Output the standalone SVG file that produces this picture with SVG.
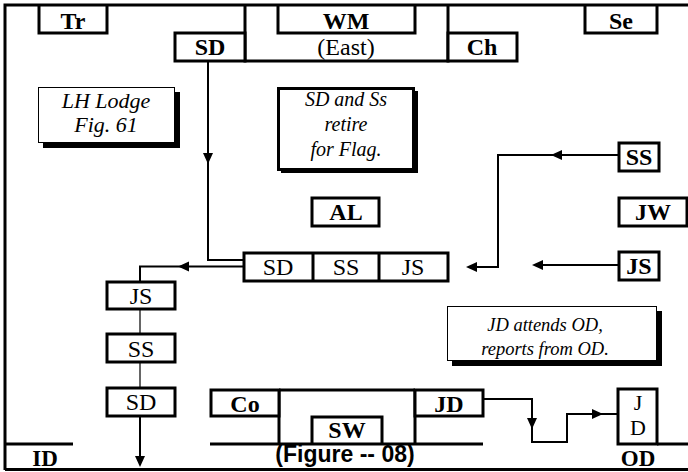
<svg xmlns="http://www.w3.org/2000/svg" width="688" height="472" viewBox="0 0 688 472">
<style>
.frame{fill:none;stroke:#000;stroke-width:3}
.box{fill:#fff;stroke:#000;stroke-width:3}
.note{fill:#fff;stroke:#000;stroke-width:1}
.shadow{fill:#000}
.lbl{font-weight:bold;font-size:24px;text-anchor:middle;fill:#000}
.reg{font-size:24px;text-anchor:middle;fill:#000}
.it{font-style:italic;font-size:20px;text-anchor:middle;fill:#000}
.fig{font-family:'Liberation Sans',Arial,sans-serif;font-weight:bold;font-size:23px;text-anchor:middle;fill:#000}
.con{fill:none;stroke:#000;stroke-width:2}
.thin{fill:none;stroke:#000;stroke-width:1.2}
.ah{fill:#000}
</style>
<defs>
<path id="arr" d="M0,0 L-11,-5 L-11,5 Z"/>
</defs>
<rect width="688" height="472" fill="#fff"/>
<g font-family="Liberation Serif, Times New Roman, serif">
<g id="frame">
<path class="frame" d="M5,470 V5 H688"/>
<path class="frame" d="M5,469.5 H688"/>
</g>
<g id="Tr">
<path class="frame" d="M39,5 V33 H107 V5"/>
<text class="lbl" x="73" y="29">Tr</text>
</g>
<g id="WM-East">
<path class="frame" d="M245,5 V61 H448 V5"/>
<path class="frame" d="M278,5 V33 H415 V5"/>
<text class="lbl" x="346" y="29">WM</text>
<text class="reg" x="346" y="55">(East)</text>
</g>
<g id="SD-top">
<rect class="box" x="175" y="33" width="70" height="28"/>
<text class="lbl" x="210" y="55">SD</text>
</g>
<g id="Ch">
<rect class="box" x="448" y="33" width="69" height="28"/>
<text class="lbl" x="482" y="55">Ch</text>
</g>
<g id="Se">
<path class="frame" d="M585,5 V33 H657 V5"/>
<text class="lbl" x="621" y="29">Se</text>
</g>
<g id="note-LH">
<rect class="shadow" x="43" y="92" width="137" height="56"/>
<rect class="note" x="38.5" y="87.5" width="136" height="55"/>
<text class="it" x="106" y="108" style="font-size:22px">LH Lodge</text>
<text class="it" x="106" y="132" style="font-size:22px">Fig. 61</text>
</g>
<g id="note-SD">
<rect class="shadow" x="281" y="91" width="137" height="82"/>
<rect class="box" x="278.5" y="88.5" width="135" height="81"/>
<text class="it" x="346" y="106">SD and Ss</text>
<text class="it" x="346" y="131">retire</text>
<text class="it" x="346" y="156">for Flag.</text>
</g>
<g id="AL">
<rect class="box" x="312" y="198" width="67" height="28"/>
<text class="lbl" x="346" y="220">AL</text>
</g>
<g id="SS-right">
<rect class="box" x="619" y="143" width="40" height="28"/>
<text class="lbl" x="639" y="165">SS</text>
</g>
<g id="JW">
<rect class="box" x="619" y="198" width="68" height="28"/>
<text class="lbl" x="653" y="220">JW</text>
</g>
<g id="JS-right">
<rect class="box" x="619" y="252" width="40" height="28"/>
<text class="lbl" x="639" y="274">JS</text>
</g>
<g id="row-SD-SS-JS">
<rect class="box" x="244" y="253" width="204" height="28"/>
<path class="frame" d="M313,253 V281 M379,253 V281"/>
<text class="reg" x="278" y="275">SD</text>
<text class="reg" x="346" y="275">SS</text>
<text class="reg" x="413" y="275">JS</text>
</g>
<g id="JS-left">
<rect class="box" x="107" y="282" width="68" height="27"/>
<text class="reg" x="141" y="304">JS</text>
</g>
<g id="SS-left">
<rect class="box" x="107" y="334" width="68" height="28"/>
<text class="reg" x="141" y="357">SS</text>
</g>
<g id="SD-left">
<rect class="box" x="107" y="388" width="68" height="28"/>
<text class="reg" x="141" y="410">SD</text>
</g>
<g id="note-JD">
<rect class="shadow" x="452" y="311" width="210" height="55"/>
<rect class="note" x="447.5" y="306.5" width="209" height="54"/>
<text class="it" x="545" y="331" style="font-size:18.5px">JD attends OD,</text>
<text class="it" x="545" y="355" style="font-size:18.5px">reports from OD.</text>
</g>
<g id="ID">
<path class="frame" d="M5,444 H73"/>
<text class="lbl" x="45" y="466" style="font-size:23px">ID</text>
</g>
<g id="South">
<path class="frame" d="M210,444 H483 M279,390 V444 M415,390 V444 M279,390 H415"/>
<path class="frame" d="M312,444 V417 H382 V444"/>
<text class="lbl" x="347" y="438">SW</text>
<text class="fig" x="345" y="462">(Figure -- 08)</text>
</g>
<g id="Co">
<rect class="box" x="211" y="390" width="68" height="26"/>
<text class="lbl" x="245" y="412">Co</text>
</g>
<g id="JD">
<rect class="box" x="415" y="390" width="68" height="26"/>
<text class="lbl" x="449" y="412">JD</text>
</g>
<g id="OD">
<rect class="box" x="618" y="389" width="39" height="55"/>
<path class="frame" d="M657,444 H688"/>
<text class="reg" x="638" y="410" style="font-size:22px">J</text>
<text class="reg" x="638" y="435" style="font-size:22px">D</text>
<text class="lbl" x="638" y="466" style="font-size:23px">OD</text>
</g>
</g>
<g id="connectors">
<path class="con" d="M208,61 V260 H244"/>
<path class="con" d="M244,266.5 H140 V282"/>
<path class="thin" d="M140,309 V334 M140,362 V388"/>
<path class="con" d="M140,416 V460"/>
<path class="con" d="M619,155 H498 V267 H472"/>
<path class="con" d="M619,265 H538"/>
<path class="con" d="M483,399 H532 V442 H567 V414 H618"/>
<use href="#arr" class="ah" transform="translate(208,164) rotate(90)"/>
<use href="#arr" class="ah" transform="translate(178,266.5) rotate(180)"/>
<use href="#arr" class="ah" transform="translate(466,267) rotate(180)"/>
<use href="#arr" class="ah" transform="translate(551,155) rotate(180)"/>
<use href="#arr" class="ah" transform="translate(532,265) rotate(180)"/>
<use href="#arr" class="ah" transform="translate(140,467) rotate(90)"/>
<use href="#arr" class="ah" transform="translate(532,429) rotate(90)"/>
<use href="#arr" class="ah" transform="translate(603,414)"/>
</g>
</svg>
